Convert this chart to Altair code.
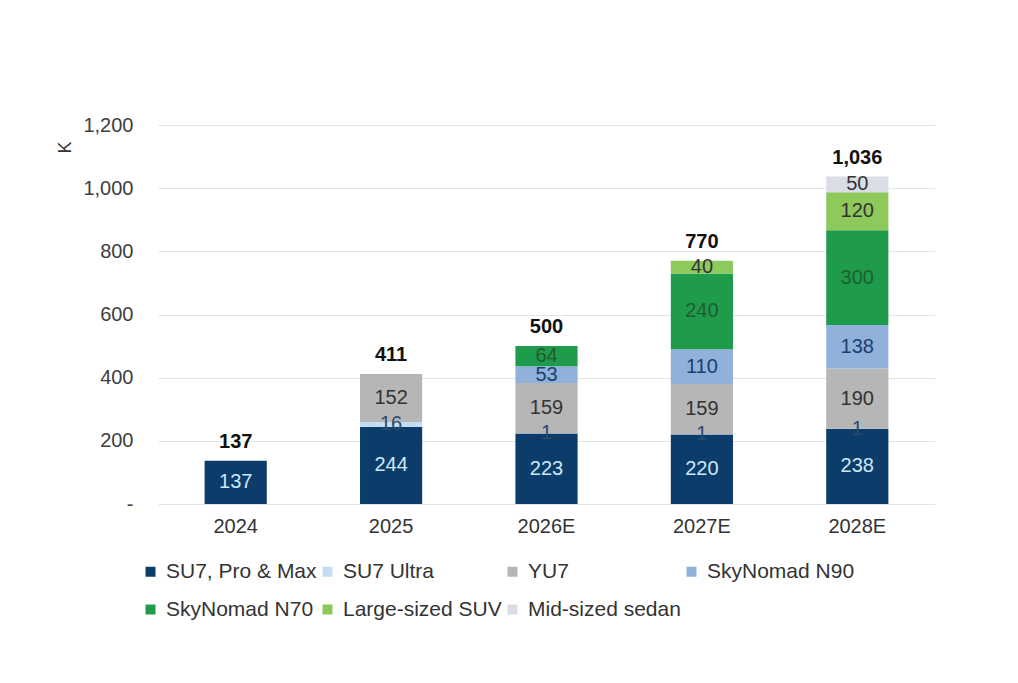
import altair as alt
import pandas as pd

years = ["2024", "2025", "2026E", "2027E", "2028E"]
series = ["SU7, Pro & Max", "SU7 Ultra", "YU7", "SkyNomad N90",
          "SkyNomad N70", "Large-sized SUV", "Mid-sized sedan"]
su7_pro_max = [137, 244, 223, 220, 238]
su7_ultra = [0, 16, 1, 1, 1]
yu7 = [0, 152, 159, 159, 190]
n90 = [0, 0, 53, 110, 138]
n70 = [0, 0, 64, 240, 300]
large_suv = [0, 0, 0, 40, 120]
mid_sedan = [0, 0, 0, 0, 50]
totals = [137, 411, 500, 770, 1036]

bar_colors = ["#0c3c69", "#c4def0", "#b6b6b6", "#8fb1da",
              "#1f9b4c", "#8dc95b", "#dadce6"]
label_colors = ["#cde8f8", "#2a4a70", "#333333", "#1b3f70",
                "#1d5e30", "#333333", "#333333"]

FONT = "Liberation Sans"

rows = []
for si, (name, vals) in enumerate(zip(series, [su7_pro_max, su7_ultra, yu7, n90,
                                                 n70, large_suv, mid_sedan])):
    for yr, v in zip(years, vals):
        rows.append({"year": yr, "series": name, "order": si, "value": v})
df = pd.DataFrame(rows)
tot = pd.DataFrame({"year": years, "total": totals})

x_enc = alt.X("year:N", sort=years,
              scale=alt.Scale(paddingInner=0.6, paddingOuter=0.3),
              axis=alt.Axis(title=None, labelAngle=0, labelFontSize=20,
                            labelColor="#333333", labelPadding=12,
                            ticks=False, domain=False, labelFont=FONT))
y_scale = alt.Scale(domain=[0, 1200], nice=False)

bars = alt.Chart(df).mark_bar().encode(
    x=x_enc,
    y=alt.Y("value:Q", stack="zero", scale=y_scale,
            axis=alt.Axis(title="K", values=[0, 200, 400, 600, 800, 1000, 1200],
                          labelExpr="datum.value == 0 ? '-' : format(datum.value, ',')",
                          labelFontSize=20, labelColor="#404040", labelPadding=25,
                          labelFont=FONT, ticks=False, domain=False,
                          gridColor="#e4e4e4", gridWidth=1,
                          titleFontSize=18, titleFontWeight="normal",
                          titleColor="#333333", titleFont=FONT,
                          titleAngle=270, titleX=-93, titleY=22,
                          titleAlign="center", titleBaseline="middle")),
    color=alt.Color("series:N",
                    scale=alt.Scale(domain=series, range=bar_colors),
                    legend=alt.Legend(title=None, orient="none", legendX=-18,
                                      legendY=436, columns=4, columnPadding=0,
                                      direction="horizontal",
                                      rowPadding=16, symbolType="square",
                                      symbolSize=100, symbolStrokeWidth=0,
                                      labelFontSize=21, labelColor="#333333",
                                      labelFont=FONT, labelOffset=5,
                                      labelLimit=300)),
    order=alt.Order("order:Q", sort="ascending"),
)

seg_labels = alt.Chart(df).transform_filter(
    "datum.value > 0"
).transform_stack(
    stack="value", groupby=["year"], as_=["y0", "y1"],
    sort=[alt.SortField("order", order="ascending")]
).transform_calculate(
    mid="(datum.y0 + datum.y1) / 2"
).mark_text(fontSize=20, font=FONT, baseline="middle").encode(
    x=alt.X("year:N", sort=years),
    y=alt.Y("mid:Q", scale=y_scale),
    text=alt.Text("value:Q"),
    color=alt.Color("series:N", scale=alt.Scale(domain=series, range=label_colors),
                    legend=None),
)

total_labels = alt.Chart(tot).mark_text(
    fontSize=20, font=FONT, fontWeight="bold", baseline="bottom", dy=-9,
    color="#111111"
).encode(
    x=alt.X("year:N", sort=years),
    y=alt.Y("total:Q", scale=y_scale),
    text=alt.Text("total:Q", format=","),
)

chart = alt.layer(bars, seg_labels, total_labels).resolve_scale(
    color="independent"
).properties(
    width=777, height=379, autosize="none",
    padding={"left": 150, "top": 117, "right": 75, "bottom": 171},
    background="white",
).configure_view(stroke=None)

chart.save("out.html", embed_options={"renderer": "svg", "actions": False})
